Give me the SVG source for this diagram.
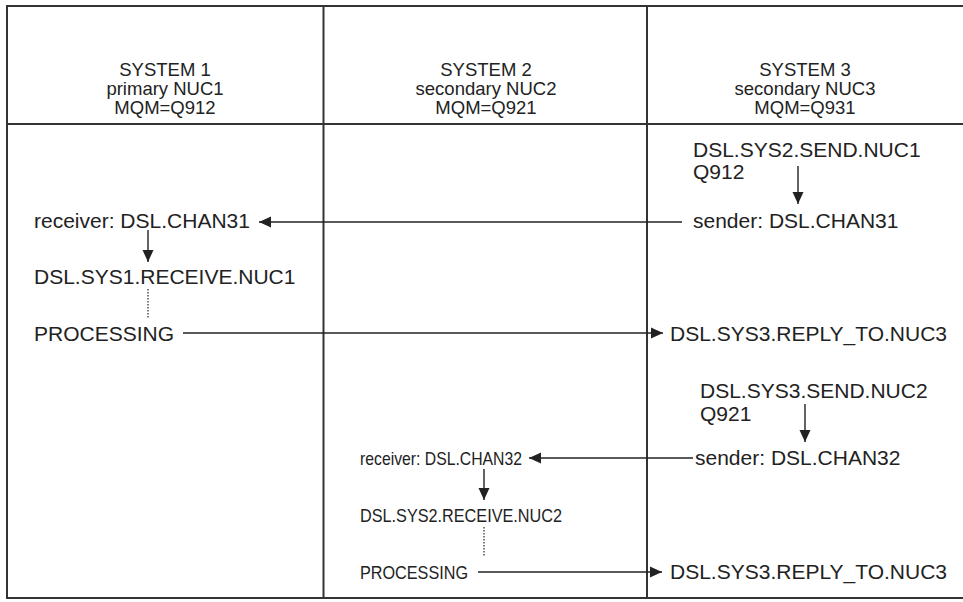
<svg xmlns="http://www.w3.org/2000/svg" width="963" height="602" viewBox="0 0 963 602">
<style>
.frame{stroke:#333;stroke-width:2;fill:none}
.hd{font-family:"Liberation Sans",Arial,sans-serif;font-size:18.5px;fill:#222;text-anchor:middle}
.tx{font-family:"Liberation Sans",Arial,sans-serif;font-size:21px;fill:#222}
.tn{font-family:"Liberation Sans",Arial,sans-serif;font-size:19px;fill:#222}
.ln{stroke:#222;stroke-width:1.4;fill:none}
.dot{stroke:#222;stroke-width:1.2;stroke-dasharray:1.5 1.5;fill:none}
</style>
<defs>
<marker id="ah" markerWidth="12" markerHeight="12" refX="12" refY="6" orient="auto" markerUnits="userSpaceOnUse">
<path d="M0,0.5 L12,6 L0,11.5 Z" fill="#222"/>
</marker>
</defs>
<rect width="963" height="602" fill="#fff"/>
<g id="grid">
<path class="frame" d="M963,6 H7 V598 H963"/>
<path class="frame" d="M7,124 H963"/>
<path class="frame" d="M323.5,6 V598"/>
<path class="frame" d="M647,6 V598"/>
</g>
<g id="system1-header"><text class="hd" x="165" y="76">SYSTEM 1</text><text class="hd" x="165" y="95">primary NUC1</text><text class="hd" x="165" y="114">MQM=Q912</text></g>
<g id="system2-header"><text class="hd" x="486" y="76">SYSTEM 2</text><text class="hd" x="486" y="95">secondary NUC2</text><text class="hd" x="486" y="114">MQM=Q921</text></g>
<g id="system3-header"><text class="hd" x="805" y="76">SYSTEM 3</text><text class="hd" x="805" y="95">secondary NUC3</text><text class="hd" x="805" y="114">MQM=Q931</text></g>
<g id="send-nuc1"><text class="tx" x="693" y="157">DSL.SYS2.SEND.NUC1</text><text class="tx" x="693" y="179">Q912</text></g>
<g id="sender31"><text class="tx" x="693" y="228">sender: DSL.CHAN31</text></g>
<g id="receiver31"><text class="tx" x="34" y="228">receiver: DSL.CHAN31</text></g>
<g id="receive-nuc1"><text class="tx" x="34" y="284">DSL.SYS1.RECEIVE.NUC1</text></g>
<g id="processing1"><text class="tx" x="34" y="341">PROCESSING</text></g>
<g id="reply-nuc3-a"><text class="tx" x="670" y="341">DSL.SYS3.REPLY_TO.NUC3</text></g>
<g id="send-nuc2"><text class="tx" x="700" y="398">DSL.SYS3.SEND.NUC2</text><text class="tx" x="700" y="421">Q921</text></g>
<g id="sender32"><text class="tx" x="695" y="465">sender: DSL.CHAN32</text></g>
<g id="receiver32"><text class="tn" x="360" y="465" textLength="162" lengthAdjust="spacingAndGlyphs">receiver: DSL.CHAN32</text></g>
<g id="receive-nuc2"><text class="tn" x="360" y="522" textLength="202" lengthAdjust="spacingAndGlyphs">DSL.SYS2.RECEIVE.NUC2</text></g>
<g id="processing2"><text class="tn" x="360" y="579" textLength="108" lengthAdjust="spacingAndGlyphs">PROCESSING</text></g>
<g id="reply-nuc3-b"><text class="tx" x="670" y="579">DSL.SYS3.REPLY_TO.NUC3</text></g>
<g id="connectors">
<path class="ln" d="M798,166 V204" marker-end="url(#ah)"/>
<path class="ln" d="M682,222 H259" marker-end="url(#ah)"/>
<path class="ln" d="M148,230 V262" marker-end="url(#ah)"/>
<path class="dot" d="M148,289 V318"/>
<path class="ln" d="M183,333 H663" marker-end="url(#ah)"/>
<path class="ln" d="M805,404 V442" marker-end="url(#ah)"/>
<path class="ln" d="M693,458 H529" marker-end="url(#ah)"/>
<path class="ln" d="M484,469 V500" marker-end="url(#ah)"/>
<path class="dot" d="M484,527 V557"/>
<path class="ln" d="M478,572 H662" marker-end="url(#ah)"/>
</g>
</svg>
